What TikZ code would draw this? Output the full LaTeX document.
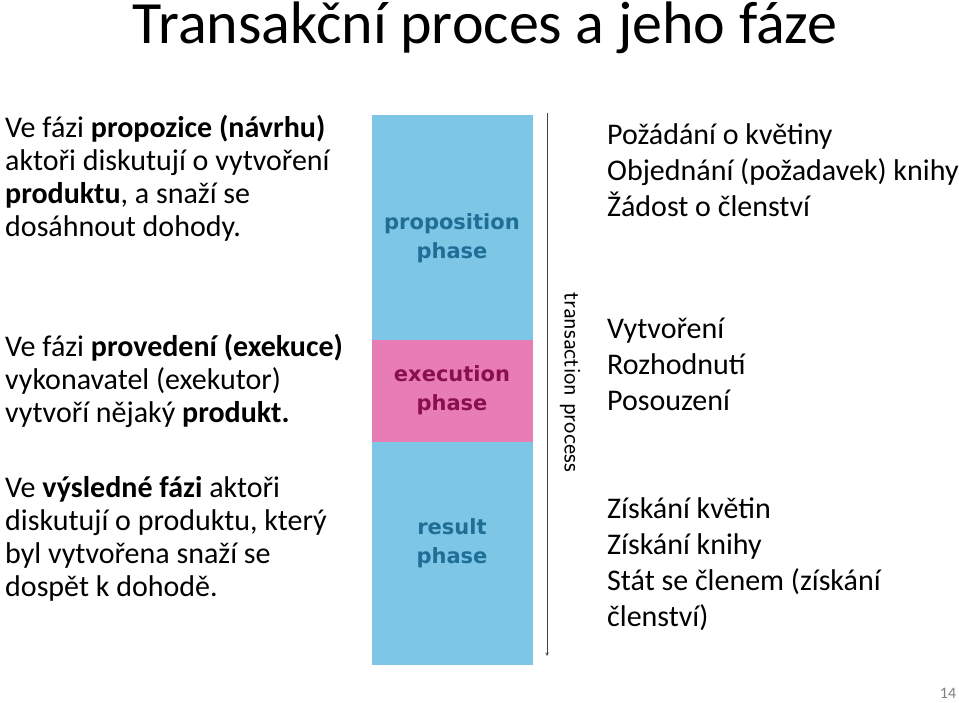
\documentclass[tikz,border=0pt]{standalone}
\usepackage{fontspec}
\setmainfont{Carlito}
\newfontfamily\phasefont{DejaVu Sans}
\definecolor{barblue}{HTML}{7EC6E6}
\definecolor{barpink}{HTML}{E87DB5}
\definecolor{txtblue}{HTML}{1F6E96}
\definecolor{txtpink}{HTML}{8A0F50}
\begin{document}
\begin{tikzpicture}[x=1pt,y=-1pt,
  lefttext/.style={anchor=north west,inner sep=0pt,align=left,font=\fontsize{30}{33}\selectfont},
  righttext/.style={anchor=north west,inner sep=0pt,align=left,font=\fontsize{30}{36}\selectfont},
  phase/.style={align=center,inner sep=0pt,font=\phasefont\bfseries\fontsize{21}{29}\selectfont}]
\useasboundingbox (0,0) rectangle (959,703);

% title
\node[font=\fontsize{60}{66}\selectfont] (title) at (485,28) {Transakční proces a jeho fáze};

% left column
\node[lefttext] (left1) at (5,115) {Ve fázi \textbf{propozice (návrhu)}\\aktoři diskutují o vytvoření\\\textbf{produktu}, a snaží se\\dosáhnout dohody.};
\node[lefttext] (left2) at (5,334) {Ve fázi \textbf{provedení (exekuce)}\\vykonavatel (exekutor)\\vytvoří nějaký \textbf{produkt.}};
\node[lefttext] (left3) at (5,476) {Ve \textbf{výsledné fázi} aktoři\\diskutují o produktu, který\\byl vytvořena snaží se\\dospět k dohodě.};

% phase bar
\fill[barblue] (372,115) rectangle (533,665);
\fill[barpink] (372,340) rectangle (533,442);
\node[phase,text=txtblue] (prop) at (452,238) {proposition\\phase};
\node[phase,text=txtpink] (exec) at (452,390) {execution\\phase};
\node[phase,text=txtblue] (res) at (452,543) {result\\phase};

% process arrow
\coordinate (ptop) at (547,113);
\coordinate (pbot) at (547,656);
\draw[->,>=stealth,semithick,black!75] (ptop) -- (pbot);
\node[rotate=-90,font=\sffamily\fontsize{24}{26}\selectfont,inner sep=0pt] (proc) at (570,382) {transaction process};

% right column
\node[righttext] (right1) at (607,123) {Požádání o květiny\\Objednání (požadavek) knihy\\Žádost o členství};
\node[righttext] (right2) at (607,318) {Vytvoření\\Rozhodnutí\\Posouzení};
\node[righttext] (right3) at (607,497) {Získání květin\\Získání knihy\\Stát se členem (získání\\členství)};

% page number
\node[text=black!50,font=\fontsize{16}{18}\selectfont] (page) at (948,693) {14};
\end{tikzpicture}
\end{document}
